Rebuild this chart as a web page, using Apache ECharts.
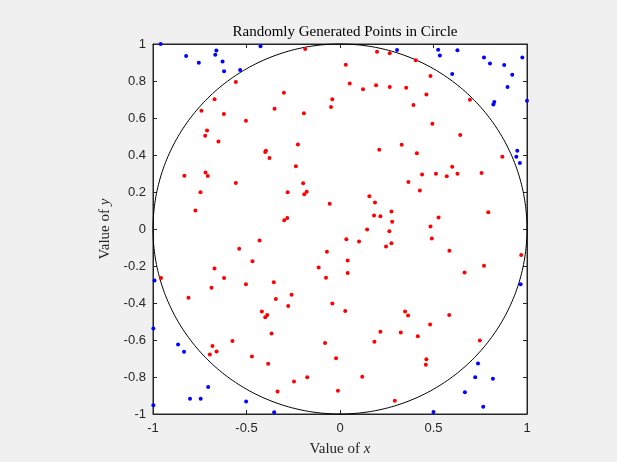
<!DOCTYPE html>
<html>
<head>
<meta charset="utf-8">
<script src="https://cdn.jsdelivr.net/npm/echarts@6/dist/echarts.min.js"></script>
<style>
  html, body { margin: 0; padding: 0; background: #f0f0f0; }
  #chart { width: 617px; height: 462px; }
</style>
</head>
<body>
<div id="chart"></div>
<script>
// points inside the unit circle (red)
const insidePoints = [
  [-0.557, 0.795], [-0.671, 0.702], [-0.741, 0.639], [-0.621, 0.621], [-0.350, 0.650],
  [-0.503, 0.585], [-0.711, 0.533], [-0.721, 0.504], [-0.650, 0.473], [-0.396, 0.423],
  [-0.400, 0.416], [-0.377, 0.384], [-0.186, 0.973], [0.198, 0.958], [0.266, 0.950],
  [0.031, 0.888], [0.052, 0.786], [0.123, 0.756], [0.193, 0.777], [0.266, 0.767],
  [-0.300, 0.736], [-0.041, 0.702], [-0.048, 0.659], [-0.193, 0.626], [-0.225, 0.457],
  [0.210, 0.429], [0.330, 0.456], [-0.236, 0.339], [0.405, 0.912], [0.484, 0.827],
  [0.354, 0.764], [0.462, 0.727], [0.393, 0.670], [0.695, 0.698], [0.494, 0.569],
  [0.643, 0.508], [0.411, 0.409], [0.868, 0.391], [0.600, 0.337], [-0.832, 0.288],
  [-0.719, 0.305], [-0.707, 0.287], [-0.557, 0.249], [-0.746, 0.198], [-0.773, 0.100],
  [-0.430, -0.062], [-0.539, -0.107], [-0.468, -0.174], [-0.671, -0.213], [-0.957, -0.265],
  [-0.620, -0.265], [-0.503, -0.298], [-0.354, -0.288], [-0.687, -0.317], [-0.197, 0.247],
  [-0.280, 0.198], [-0.178, 0.201], [-0.191, 0.188], [-0.055, 0.136], [0.157, 0.177],
  [0.187, 0.143], [0.275, 0.094], [0.182, 0.073], [0.216, 0.069], [0.279, 0.039],
  [-0.282, 0.060], [-0.298, 0.047], [0.145, -0.003], [0.264, -0.012], [0.034, -0.055],
  [0.102, -0.067], [0.246, -0.094], [0.275, -0.077], [-0.070, -0.123], [0.041, -0.170],
  [-0.114, -0.208], [0.041, -0.238], [-0.075, -0.263], [0.439, 0.294], [0.513, 0.298],
  [0.571, 0.285], [0.628, 0.298], [0.757, 0.303], [0.366, 0.254], [0.427, 0.208],
  [0.793, 0.091], [0.527, 0.062], [0.484, 0.013], [0.491, -0.051], [0.585, -0.118],
  [0.969, -0.141], [0.770, -0.198], [0.666, -0.235], [-0.810, -0.371], [-0.343, -0.378],
  [-0.418, -0.446], [-0.389, -0.465], [-0.400, -0.477], [-0.366, -0.565], [-0.575, -0.606],
  [-0.682, -0.632], [-0.660, -0.662], [-0.696, -0.678], [-0.471, -0.689], [-0.384, -0.729],
  [-0.334, -0.878], [-0.259, -0.355], [-0.277, -0.416], [-0.041, -0.403], [0.028, -0.443],
  [0.216, -0.556], [0.325, -0.560], [0.184, -0.610], [-0.080, -0.616], [-0.021, -0.698],
  [-0.246, -0.824], [-0.175, -0.801], [0.119, -0.799], [-0.011, -0.874], [0.293, -0.928],
  [0.348, -0.446], [0.364, -0.468], [0.584, -0.465], [0.482, -0.516], [0.416, -0.580],
  [0.748, -0.603], [0.462, -0.704], [0.459, -0.734]
];

// points outside the unit circle (blue)
const outsidePoints = [
  [-0.959, 1.000], [-0.823, 0.935], [-0.755, 0.898], [-0.661, 0.965], [-0.667, 0.942],
  [-0.628, 0.905], [-0.620, 0.853], [-0.534, 0.860], [-0.425, 0.988], [0.305, 0.968],
  [0.525, 0.969], [0.534, 0.938], [0.628, 0.966], [0.770, 0.927], [0.802, 0.894],
  [0.878, 0.887], [0.975, 0.927], [0.921, 0.834], [0.600, 0.838], [0.896, 0.768],
  [0.825, 0.687], [0.820, 0.673], [1.000, 0.693], [0.948, 0.423], [0.943, 0.391],
  [0.962, 0.357], [-0.992, -0.278], [0.966, -0.299], [-0.998, -0.538], [-0.866, -0.624],
  [-0.834, -0.664], [-0.705, -0.854], [-0.802, -0.918], [-0.745, -0.918], [-0.998, -0.953],
  [-0.502, -0.932], [-0.352, -0.991], [0.738, -0.727], [0.723, -0.802], [0.818, -0.810],
  [0.668, -0.883], [0.766, -0.961], [0.500, -0.989]
];

// reference circle: centre x, centre y, radius
const circle = [[0, 0, 1]];

const xTicks = [-1, -0.5, 0, 0.5, 1];
const yTicks = [-1, -0.8, -0.6, -0.4, -0.2, 0, 0.2, 0.4, 0.6, 0.8, 1];

const chart = echarts.init(document.getElementById('chart'));

const axisColor = '#262626';
const serif = 'Liberation Serif, DejaVu Serif, serif';
const tickFont = { color: axisColor, fontFamily: 'Liberation Sans, Arial, sans-serif', fontSize: 13 };
const axisLine = { show: true, onZero: false, lineStyle: { color: axisColor } };
const axisTick = { show: true, inside: true, length: 4, lineStyle: { color: axisColor } };
const nameStyle = {
  fontFamily: serif,
  fontSize: 15,
  color: axisColor,
  rich: { i: { fontStyle: 'italic', fontFamily: serif, fontSize: 15, color: axisColor } }
};

chart.setOption({
  backgroundColor: '#f0f0f0',
  animation: false,
  title: {
    text: 'Randomly Generated Points in Circle',
    left: 340,
    textAlign: 'center',
    top: 20,
    textStyle: { fontFamily: serif, fontWeight: 'normal', fontSize: 15, color: '#000' }
  },
  grid: {
    left: 153,
    top: 44,
    width: 374,
    height: 371,
    show: true,
    backgroundColor: '#ffffff',
    borderColor: axisColor,
    borderWidth: 1
  },
  xAxis: [
    {
      type: 'value',
      min: xTicks[0],
      max: xTicks[xTicks.length - 1],
      interval: 0.5,
      position: 'bottom',
      axisLine: axisLine,
      axisTick: axisTick,
      axisLabel: Object.assign({ margin: 8, formatter: v => String(v) }, tickFont),
      splitLine: { show: false },
      name: 'Value of {i|x}',
      nameLocation: 'middle',
      nameGap: 28,
      nameTextStyle: nameStyle
    },
    {
      type: 'value',
      min: xTicks[0],
      max: xTicks[xTicks.length - 1],
      interval: 0.5,
      position: 'top',
      axisLine: axisLine,
      axisTick: axisTick,
      axisLabel: { show: false },
      splitLine: { show: false }
    }
  ],
  yAxis: [
    {
      type: 'value',
      min: yTicks[0],
      max: yTicks[yTicks.length - 1],
      interval: 0.2,
      position: 'left',
      axisLine: axisLine,
      axisTick: axisTick,
      axisLabel: Object.assign({ margin: 7, formatter: v => String(Math.round(v * 10) / 10) }, tickFont),
      splitLine: { show: false },
      name: 'Value of {i|y}',
      nameLocation: 'middle',
      nameGap: 38,
      nameTextStyle: nameStyle
    },
    {
      type: 'value',
      min: yTicks[0],
      max: yTicks[yTicks.length - 1],
      interval: 0.2,
      position: 'right',
      axisLine: axisLine,
      axisTick: axisTick,
      axisLabel: { show: false },
      splitLine: { show: false }
    }
  ],
  series: [
    {
      name: 'circle',
      type: 'custom',
      data: circle,
      clip: false,
      silent: true,
      z: 1,
      renderItem: function (params, api) {
        const cx = api.value(0), cy = api.value(1), r = api.value(2);
        const pts = [];
        for (let i = 0; i <= 360; i++) {
          const t = i * Math.PI / 180;
          pts.push(api.coord([cx + r * Math.cos(t), cy + r * Math.sin(t)]));
        }
        return {
          type: 'polyline',
          shape: { points: pts },
          style: { stroke: '#000', lineWidth: 1, fill: null }
        };
      }
    },
    {
      name: 'inside',
      type: 'scatter',
      data: insidePoints,
      symbolSize: 4,
      z: 3,
      itemStyle: { color: '#ff0000', opacity: 1 }
    },
    {
      name: 'outside',
      type: 'scatter',
      data: outsidePoints,
      symbolSize: 4,
      z: 3,
      itemStyle: { color: '#0000ff', opacity: 1 }
    }
  ]
});
</script>
</body>
</html>
